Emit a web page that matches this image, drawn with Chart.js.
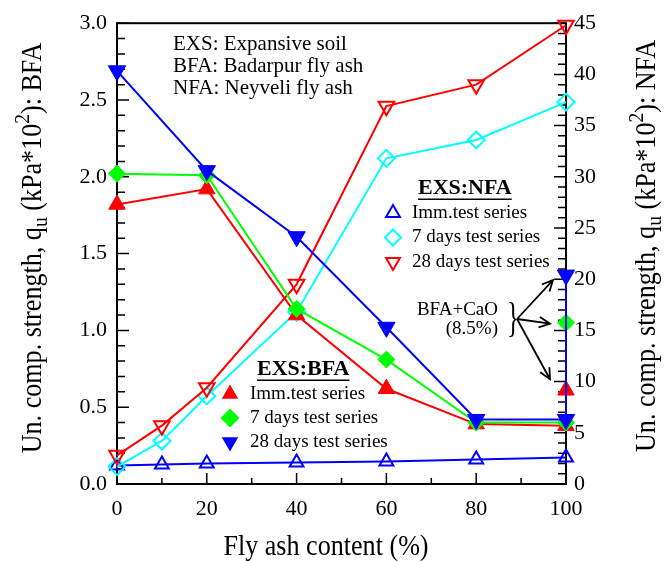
<!DOCTYPE html>
<html>
<head>
<meta charset="utf-8">
<script src="https://cdn.jsdelivr.net/npm/chart.js@4.4.1/dist/chart.umd.min.js"></script>
<style>
  body { margin: 0; background: #fff; }
  #wrap { width: 670px; height: 561px; }
</style>
</head>
<body>
<div id="wrap"><canvas id="strengthChart" width="670" height="561"></canvas></div>
<script>
// fly ash content (%) for each series
const bfaX = [0, 20, 40, 60, 80, 100];
const nfaX = [0, 10, 20, 40, 60, 80, 100];

// EXS:BFA, left axis (kPa*10^2)
const bfaImm = [1.82, 1.92, 1.10, 0.62, 0.39, 0.38];
const bfa7 = [2.02, 2.01, 1.14, 0.81, 0.40, 0.40];
const bfa28 = [2.69, 2.04, 1.61, 1.02, 0.42, 0.42];

// BFA + CaO (8.5%) at 100 %: imm, 7 days, 28 days
const caoX = 100;
const caoVals = [0.61, 1.05, 1.36];

// EXS:NFA, right axis (kPa*10^2)
const nfaImm = [1.8, 1.9, 2.0, 2.1, 2.2, 2.4, 2.6];
const nfa7 = [1.7, 4.2, 8.6, 16.8, 31.8, 33.6, 37.3];
const nfa28 = [2.8, 5.7, 9.4, 19.5, 36.9, 39.0, 44.8];

const RED = '#ff0000', GREEN = '#00ff00', BLUE = '#0000ff', CYAN = '#00ffff';
const FONT = "'Liberation Serif', 'DejaVu Serif', serif";

function pts(xs, ys) {
    return xs.map((x, i) => ({ x: x, y: ys[i] }));
}

// small marker painter for the hand placed legends
function marker(ctx, kind, x, y, r, color, filled) {
    ctx.save();
    ctx.beginPath();
    if (kind === 'diamond') {
        ctx.moveTo(x - r, y); ctx.lineTo(x, y - r); ctx.lineTo(x + r, y); ctx.lineTo(x, y + r);
    } else {
        const s = kind === 'down' ? -1 : 1;
        for (let k = 0; k < 3; k++) {
            const a = k * 2 * Math.PI / 3;
            const px = x + Math.sin(a) * r * s, py = y - Math.cos(a) * r * s;
            if (k === 0) ctx.moveTo(px, py); else ctx.lineTo(px, py);
        }
    }
    ctx.closePath();
    if (filled) { ctx.fillStyle = color; ctx.fill(); }
    else { ctx.strokeStyle = color; ctx.lineWidth = 2; ctx.stroke(); }
    ctx.restore();
}

// text with sub / superscript parts, centred along x, baseline at y=0
function richText(ctx, parts, size, squeeze) {
    let w = 0;
    parts.forEach(p => {
        ctx.font = (p.sub || p.sup ? size * 0.75 : size) + 'px ' + FONT;
        p.w = ctx.measureText(p.t).width;
        w += p.w;
    });
    ctx.scale(squeeze, 1);
    let x = -w / 2;
    ctx.textBaseline = 'alphabetic';
    ctx.textAlign = 'left';
    parts.forEach(p => {
        ctx.font = (p.sub || p.sup ? size * 0.75 : size) + 'px ' + FONT;
        const dy = p.sub ? size * 0.2 : p.sup ? -size * 0.4 : 0;
        ctx.fillText(p.t, x, dy);
        x += p.w;
    });
}

function arrow(ctx, x1, y1, x2, y2) {
    const a = Math.atan2(y2 - y1, x2 - x1), h = 12;
    ctx.beginPath();
    ctx.moveTo(x1, y1); ctx.lineTo(x2, y2);
    ctx.moveTo(x2 - h * Math.cos(a - 0.45), y2 - h * Math.sin(a - 0.45));
    ctx.lineTo(x2, y2);
    ctx.lineTo(x2 - h * Math.cos(a + 0.45), y2 - h * Math.sin(a + 0.45));
    ctx.stroke();
}

const decor = {
    id: 'decor',
    beforeDatasetsDraw(chart) {
        const { ctx, chartArea: a, scales } = chart;
        ctx.save();
        ctx.strokeStyle = '#000';
        ctx.lineWidth = 2;
        ctx.strokeRect(a.left, a.top, a.right - a.left, a.bottom - a.top);
        ctx.lineWidth = 1.5;
        ctx.beginPath();
        for (let v = 0; v <= 30; v++) {
            const y = scales.yL.getPixelForValue(v / 10);
            ctx.moveTo(a.left, y); ctx.lineTo(a.left + (v % 5 === 0 ? 12 : 8), y);
        }
        for (let v = 0; v <= 45; v++) {
            const y = scales.yR.getPixelForValue(v);
            ctx.moveTo(a.right, y); ctx.lineTo(a.right - (v % 5 === 0 ? 12 : 8), y);
        }
        for (let v = 0; v <= 100; v += 10) {
            const x = scales.x.getPixelForValue(v);
            ctx.moveTo(x, a.bottom); ctx.lineTo(x, a.bottom - (v % 20 === 0 ? 11 : 6));
        }
        ctx.stroke();
        ctx.restore();
    },
    afterDraw(chart) {
        const { ctx } = chart;
        ctx.save();
        ctx.fillStyle = '#000';
        ctx.strokeStyle = '#000';

        // axis titles
        ctx.save();
        ctx.translate(41, 248);
        ctx.rotate(-Math.PI / 2);
        richText(ctx, [{ t: 'Un. comp. strength, q' }, { t: 'u', sub: true }, { t: ' (kPa*10' }, { t: '2', sup: true }, { t: '): BFA' }], 29, 0.9);
        ctx.restore();
        ctx.save();
        ctx.translate(655, 246);
        ctx.rotate(-Math.PI / 2);
        richText(ctx, [{ t: 'Un. comp. strength, q' }, { t: 'u', sub: true }, { t: ' (kPa*10' }, { t: '2', sup: true }, { t: '): NFA' }], 29, 0.9);
        ctx.restore();
        ctx.save();
        ctx.translate(326, 555);
        richText(ctx, [{ t: 'Fly ash content (%)' }], 29, 0.9);
        ctx.restore();

        // abbreviations
        ctx.font = '21px ' + FONT;
        ctx.textAlign = 'left';
        ctx.textBaseline = 'middle';
        ctx.fillText('EXS: Expansive soil', 173, 44);
        ctx.fillText('BFA: Badarpur fly ash', 173, 66);
        ctx.fillText('NFA: Neyveli fly ash', 173, 88);

        // legend headings
        ctx.font = 'bold 22px ' + FONT;
        ctx.fillText('EXS:NFA', 418, 188);
        let w = ctx.measureText('EXS:NFA').width;
        ctx.fillRect(418, 198.5, w, 1.5);
        ctx.fillText('EXS:BFA', 257, 369);
        w = ctx.measureText('EXS:BFA').width;
        ctx.fillRect(257, 379.5, w, 1.5);

        // NFA legend
        ctx.font = '19px ' + FONT;
        const nfaLeg = [['up', BLUE, 'Imm.test series'], ['diamond', CYAN, '7 days test series'], ['down', RED, '28 days test series']];
        nfaLeg.forEach((l, i) => {
            const y = 213 + i * 24.5;
            marker(ctx, l[0], 393, y, 8, l[1], false);
            ctx.fillStyle = '#000';
            ctx.fillText(l[2], 412, y);
        });
        const bfaLeg = [['up', RED, 'Imm.test series'], ['diamond', GREEN, '7 days test series'], ['down', BLUE, '28 days test series']];
        bfaLeg.forEach((l, i) => {
            const y = 394 + i * 24;
            marker(ctx, l[0], 230, y, 9.5, l[1], true);
            ctx.fillStyle = '#000';
            ctx.fillText(l[2], 250, y);
        });

        // BFA+CaO note
        ctx.textAlign = 'right';
        ctx.fillText('BFA+CaO', 498, 310);
        ctx.fillText('(8.5%)', 498, 329);
        ctx.save();
        ctx.translate(513, 320);
        ctx.scale(0.6, 1);
        ctx.font = '42px ' + FONT;
        ctx.textAlign = 'center';
        ctx.fillText('}', 0, 0);
        ctx.restore();
        ctx.lineWidth = 1.8;
        const s = chart.scales;
        const ax = s.x.getPixelForValue(caoX) - 16;
        arrow(ctx, 517, 319, ax + 3, s.yL.getPixelForValue(caoVals[2]) + 5);
        arrow(ctx, 517, 319, ax, s.yL.getPixelForValue(caoVals[1]) + 1);
        arrow(ctx, 517, 319, ax, s.yL.getPixelForValue(caoVals[0]) - 11);
        ctx.restore();
    }
};

function series(data, axis, color, style, filled, r, order) {
    return {
        data: data,
        yAxisID: axis,
        borderColor: color,
        borderWidth: 2,
        pointStyle: style === 'diamond' ? 'rectRot' : 'triangle',
        pointRotation: style === 'down' ? 180 : 0,
        pointRadius: r,
        pointBorderColor: color,
        pointBackgroundColor: filled ? color : 'rgba(0,0,0,0)',
        pointBorderWidth: filled ? 1 : 2,
        tension: 0,
        clip: false,
        order: order
    };
}

const ctx = document.getElementById('strengthChart').getContext('2d');
new Chart(ctx, {
    type: 'line',
    data: {
        datasets: [
            series(pts(nfaX, nfaImm), 'yR', BLUE, 'up', false, 8, 6),
            series(pts(nfaX, nfa7), 'yR', CYAN, 'diamond', false, 8.5, 5),
            series(pts(nfaX, nfa28), 'yR', RED, 'down', false, 9, 4),
            series(pts(bfaX, bfaImm).concat([{ x: caoX, y: caoVals[0] }]), 'yL', RED, 'up', true, 9.5, 3),
            series(pts(bfaX, bfa7).concat([{ x: caoX, y: caoVals[1] }]), 'yL', GREEN, 'diamond', true, 8.5, 2),
            series(pts(bfaX, bfa28).concat([{ x: caoX, y: caoVals[2] }]), 'yL', BLUE, 'down', true, 10, 1)
        ]
    },
    options: {
        responsive: false,
        animation: false,
        layout: { padding: { top: 18 } },
        plugins: {
            legend: { display: false },
            tooltip: { enabled: false }
        },
        scales: {
            x: {
                type: 'linear',
                min: 0,
                max: 100,
                grid: { display: false, drawTicks: false },
                border: { display: false },
                ticks: { stepSize: 20, color: '#000', padding: 12, font: { family: FONT, size: 22 } },
                afterFit(sc) { sc.height = 77; }
            },
            yL: {
                position: 'left',
                min: 0,
                max: 3,
                grid: { display: false, drawTicks: false },
                border: { display: false },
                ticks: { stepSize: 0.5, color: '#000', padding: 10, font: { family: FONT, size: 22 }, callback: v => v.toFixed(1) },
                afterFit(sc) { sc.width = 117; }
            },
            yR: {
                position: 'right',
                min: 0,
                max: 45,
                grid: { display: false, drawTicks: false },
                border: { display: false },
                ticks: { stepSize: 5, color: '#000', padding: 8, font: { family: FONT, size: 22 } },
                afterFit(sc) { sc.width = 104; }
            }
        }
    },
    plugins: [decor]
});
</script>
</body>
</html>
